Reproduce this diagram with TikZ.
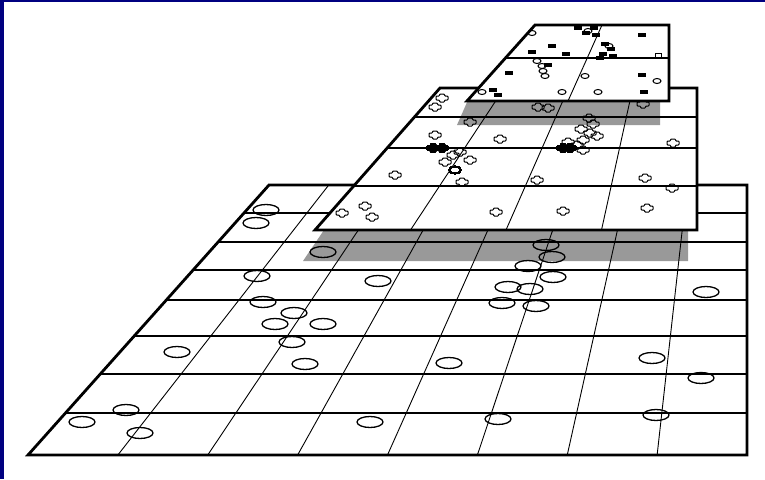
\documentclass[tikz,border=0pt]{standalone}
\usepackage{xcolor}
\usepackage{tikz}
\usetikzlibrary{calc}

\definecolor{framenavy}{RGB}{0,0,128}
\tikzset{
  plane/.style={draw=black,line width=2.8pt,line join=miter},
  rowline/.style={line width=1.6pt},
  colline/.style={line width=0.9pt},
  shadow/.style={fill=black!40},
  ring/.style={draw=black,line width=1.3pt},
  bar/.style={fill=black},
}
\newcommand{\plusmark}[3][]{%
  \draw[line width=1pt,rounded corners=0.8pt,#1] (#2,#3) ++(-2.5,-4) -- ++(5,0) -- ++(0,2) -- ++(3.5,0)
    -- ++(0,4) -- ++(-3.5,0) -- ++(0,2) -- ++(-5,0) -- ++(0,-2) -- ++(-3.5,0)
    -- ++(0,-4) -- ++(3.5,0) -- cycle;}

\begin{document}
\begin{tikzpicture}[x=1pt,y=-1pt]
\useasboundingbox (0,0) rectangle (765,479);
\fill[white] (0,0) rectangle (765,479);

% bottom level
\fill[white] (28,455) -- (747,455) -- (747,185) -- (269,185) -- cycle;
\fill[shadow] (303,261) -- (688,261) -- (688,230) -- (324,230) -- cycle;
\foreach \i in {1,...,7}
  \draw[colline] ({28+\i*89.875},455) -- ({269+\i*59.75},185);
\foreach \y in {213,242,270,300,336,374,413}
  \draw[rowline] ({28+(455-\y)/270*241},\y) -- (747,\y);
\foreach \x/\y in {266/210,256/223,323/252,257/276,263/302,294/313,275/324,
    323/324,292/342,177/352,305/364,126/410,82/422,140/433,378/281,370/422,
    546/245,552/257,528/266,553/277,508/287,530/289,502/303,536/306,706/292,
    449/363,652/358,701/378,498/419,656/415}
  \draw[ring] (\x,\y) ellipse (13 and 5.5);
\draw[plane] (28,455) -- (747,455) -- (747,185) -- (269,185) -- cycle;

% middle level
\fill[white] (315,230) -- (697,230) -- (697,88) -- (440,88) -- cycle;
\fill[shadow] (457,125) -- (660,125) -- (660,100) -- (468,100) -- cycle;
\foreach \i in {1,2,3}
  \draw[colline] ({315+\i*95.5},230) -- ({440+\i*64.25},88);
\foreach \y in {117,148,186}
  \draw[rowline] ({315+(230-\y)/142*125},\y) -- (697,\y);
\foreach \x/\y in {442/98,435/107,538/107,548/108,643/104,470/122,589/118,
    593/124,581/129,590/133,597/136,568/142,583/140,577/145,583/150,435/135,
    500/139,673/143,453/155,460/152,445/162,470/160,462/182,395/175,537/180,
    645/178,672/188,365/206,342/213,372/217,496/212,563/211,647/208}
  \plusmark{\x}{\y}
\foreach \x/\y in {433/148,442/148,563/148,570/148}
  \plusmark[fill=black]{\x}{\y}
\draw[ring,line width=1pt] (455,170) ellipse (6 and 3.5);
\draw[plane] (315,230) -- (697,230) -- (697,88) -- (440,88) -- cycle;

% top level
\fill[white] (467,101) -- (669,101) -- (669,25) -- (535,25) -- cycle;
\draw[colline] (568,101) -- (602,25);
\draw[rowline] ({467+(101-58)/76*68},58) -- (669,58);
\foreach \x/\y in {552/46,532/52,566/54,509/73,493/90,498/95,642/35,642/75,
    644/92,548/65,578/28,586/33,594/28,596/35,605/44,611/49,603/54,613/56,600/58}
  \fill[bar] (\x-4,\y-1.7) rectangle (\x+4,\y+1.7);
\foreach \x/\y in {532/33,537/61,542/66,543/71,545/76,482/92,562/92,585/76,
    657/81,598/92,588/31,609/46}
  \draw[ring,line width=1pt] (\x,\y) ellipse (4 and 2.5);
\draw[line width=1pt] (655,53) rectangle (661,58);
\draw[plane] (467,101) -- (669,101) -- (669,25) -- (535,25) -- cycle;

% frame
\fill[framenavy] (0,0) rectangle (4,479);
\fill[framenavy] (0,0) rectangle (765,2);
\end{tikzpicture}
\end{document}
